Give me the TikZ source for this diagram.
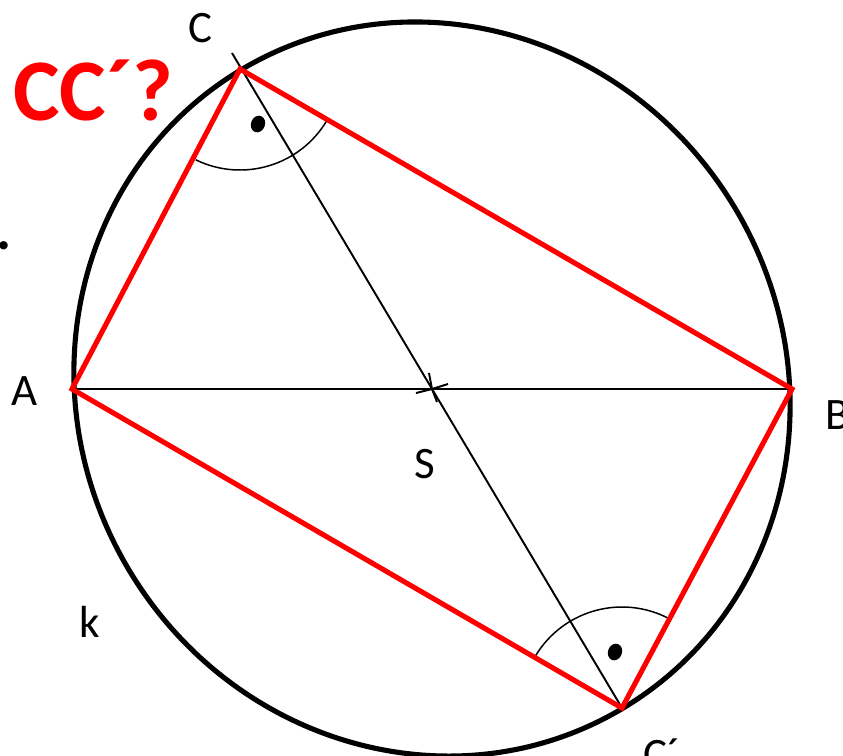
\documentclass[tikz,border=0pt]{standalone}
\usepackage{fontspec}
\setmainfont{Carlito}
\begin{document}
\begin{tikzpicture}[x=0.02cm, y=-0.02cm,
    geoCircleStyle/.style={line width=2.9pt},
    geoThinStyle/.style={line width=1.1pt},
    geoQuadStyle/.style={draw=red, line width=2.9pt, line join=miter},
    geoArcStyle/.style={line width=0.85pt},
    geoLabelStyle/.style={font=\fontsize{25.6}{30}\selectfont, inner sep=0pt},
    geoTitleStyle/.style={font=\fontsize{50}{60}\selectfont\bfseries, text=red, inner sep=0pt}]

    \useasboundingbox (0,0) rectangle (843,755);

    % points of the figure
    \coordinate (ptS) at (432, 389);
    \coordinate (ptA) at (72, 389);
    \coordinate (ptB) at (792, 389);
    \coordinate (ptC) at (240, 69);
    \coordinate (ptCc) at (622, 708);
    \coordinate (lineTop) at (232, 53);

    % circle k
    \draw[geoCircleStyle, rotate around={121:(ptS)}] (ptS) ellipse [x radius=7.44cm, y radius=7.06cm];

    % diameters
    \draw[geoThinStyle] (ptA) -- (ptB);
    \draw[geoThinStyle] (lineTop) -- (ptCc);
    \draw[geoThinStyle] (416, 393) -- (ptS) -- (448, 384);
    \draw[geoThinStyle] (429, 373) -- (ptS) -- (437, 402);

    % right angles
    \draw[geoArcStyle] (ptC) ++(30:101) arc[start angle=30, end angle=116, radius=101];
    \draw[geoArcStyle] (ptCc) ++(211:101) arc[start angle=211, end angle=298, radius=101];
    \fill[rotate around={-20:(258, 124)}] (258, 124) ellipse [x radius=0.14cm, y radius=0.17cm];
    \fill[rotate around={-20:(615, 652)}] (615, 652) ellipse [x radius=0.14cm, y radius=0.17cm];

    % red quadrilateral
    \draw[geoQuadStyle] (ptA) -- (ptC) -- (ptB) -- (ptCc) -- cycle;

    % labels
    \node[geoTitleStyle, anchor=base west] (lblQuest) at (13, 120) {CC´?};
    \node[geoLabelStyle, anchor=base] (lblC) at (200, 42) {C};
    \node[geoLabelStyle, anchor=base] (lblA) at (25, 405) {A};
    \node[geoLabelStyle, anchor=base west] (lblB) at (825, 429) {B};
    \node[geoLabelStyle, anchor=base] (lblS) at (425, 478) {S};
    \node[geoLabelStyle, anchor=base] (lblK) at (90, 637) {k};
    \node[geoLabelStyle, anchor=base west] (lblCc) at (643, 769) {C´};
    \node[geoLabelStyle, font=\fontsize{32}{36}\selectfont\bfseries, anchor=base] (lblDot) at (4, 249) {.};
\end{tikzpicture}
\end{document}
